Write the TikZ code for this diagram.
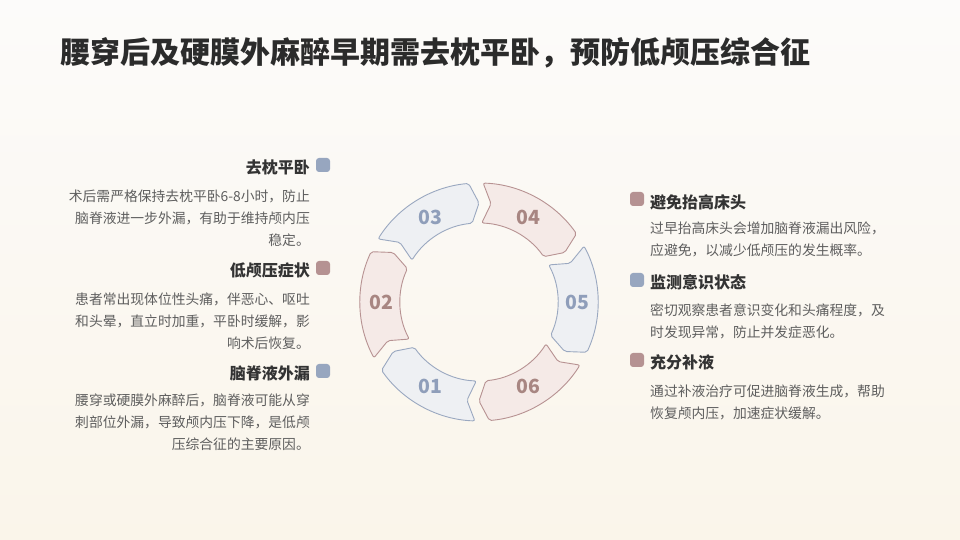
\documentclass[tikz,border=0pt]{standalone}
\usepackage{fontspec}
\setmainfont{Noto Sans CJK SC}
\usepackage{tikz}

\definecolor{bgtop}{HTML}{FCFBFA}
\definecolor{bgbottom}{HTML}{FAF5EA}
\definecolor{titlecol}{HTML}{2B2B2B}
\definecolor{headcol}{HTML}{333333}
\definecolor{bodycol}{HTML}{5E5E5E}
\definecolor{tagblue}{HTML}{97A6BF}
\definecolor{tagpink}{HTML}{B59292}
\definecolor{segblue}{HTML}{9AA8C0}
\definecolor{segbluefill}{HTML}{EEF0F3}
\definecolor{segpink}{HTML}{B79292}
\definecolor{segpinkfill}{HTML}{F5EAE7}
\definecolor{numblue}{HTML}{8F9EBA}
\definecolor{numpink}{HTML}{A88682}

% one piece of the ring, centred on angle #1
\newcommand{\ringpiece}[1]{(#1+28:119) arc[start angle=#1+28, end angle=#1-25, radius=119]
  -- (#1-30:99) -- (#1-25:79) arc[start angle=#1-25, end angle=#1+28, radius=79]
  -- (#1+23:99) -- cycle}

\tikzset{
  heading/.style={font=\fontsize{16}{19}\selectfont\bfseries, text=headcol, inner sep=0pt},
  body/.style={font=\fontsize{13.8}{22}\selectfont, text=bodycol, inner sep=0pt},
  tagbox/.style={minimum size=14pt, inner sep=0pt, rounded corners=3pt},
  blueseg/.style={draw=segblue, fill=segbluefill, line width=0.9pt, rounded corners=2pt},
  pinkseg/.style={draw=segpink, fill=segpinkfill, line width=0.9pt, rounded corners=2pt},
  numtext/.style={font=\fontsize{19.5}{22}\selectfont\bfseries, inner sep=0pt}
}

\begin{document}
\begin{tikzpicture}[x=1pt,y=1pt]
  \shade[top color=bgtop, bottom color=bgbottom] (0,0) rectangle (960,540);

  \node[anchor=west, inner sep=0pt, text=titlecol, font=\fontsize{30}{36}\selectfont\bfseries]
    (title) at (60,487) {腰穿后及硬膜外麻醉早期需去枕平卧，预防低颅压综合征};

  % the ring
  \begin{scope}[shift={(479,238)}]
    \draw[blueseg] \ringpiece{240}; % piece 01
    \draw[pinkseg] \ringpiece{180};
    \draw[blueseg] \ringpiece{120};
    \draw[pinkseg] \ringpiece{60};
    \draw[blueseg] \ringpiece{0};
    \draw[pinkseg] \ringpiece{300}; % piece 06
    \node[numtext, text=numblue] (num01) at (240:98) {01};
    \node[numtext, text=numpink] (num02) at (180:98) {02};
    \node[numtext, text=numblue] (num03) at (120:98) {03};
    \node[numtext, text=numpink] (num04) at (60:98) {04};
    \node[numtext, text=numblue] (num05) at (0:98) {05};
    \node[numtext, text=numpink] (num06) at (300:98) {06};
  \end{scope}

  % left column
  \node[tagbox, fill=tagblue] (tagA) at (323,375) {};
  \node[heading, anchor=east] (headA) at (310,373) {去枕平卧};
  \node[body, anchor=east, align=right] (bodyA) at (310,322)
    {术后需严格保持去枕平卧6-8小时，防止\\脑脊液进一步外漏，有助于维持颅内压\\稳定。};
  \node[tagbox, fill=tagpink] (tagB) at (323,272) {};
  \node[heading, anchor=east] (headB) at (310,270) {低颅压症状};
  \node[body, anchor=east, align=right] (bodyB) at (310,219)
    {患者常出现体位性头痛，伴恶心、呕吐\\和头晕，直立时加重，平卧时缓解，影\\响术后恢复。};
  \node[tagbox, fill=tagblue] (tagC) at (323,169) {};
  \node[heading, anchor=east] (headC) at (310,167) {脑脊液外漏};
  \node[body, anchor=east, align=right] (bodyC) at (310,118)
    {腰穿或硬膜外麻醉后，脑脊液可能从穿\\刺部位外漏，导致颅内压下降，是低颅\\压综合征的主要原因。};

  % right column
  \node[tagbox, fill=tagpink] (tagD) at (637,341) {};
  \node[heading, anchor=west] (headD) at (650,338) {避免抬高床头};
  \node[body, anchor=west, align=left] (bodyD) at (650,301)
    {过早抬高床头会增加脑脊液漏出风险，\\应避免，以减少低颅压的发生概率。};
  \node[tagbox, fill=tagblue] (tagE) at (637,260) {};
  \node[heading, anchor=west] (headE) at (650,258) {监测意识状态};
  \node[body, anchor=west, align=left] (bodyE) at (650,219)
    {密切观察患者意识变化和头痛程度，及\\时发现异常，防止并发症恶化。};
  \node[tagbox, fill=tagpink] (tagF) at (637,180) {};
  \node[heading, anchor=west] (headF) at (650,178) {充分补液};
  \node[body, anchor=west, align=left] (bodyF) at (650,138)
    {通过补液治疗可促进脑脊液生成，帮助\\恢复颅内压，加速症状缓解。};
\end{tikzpicture}
\end{document}
